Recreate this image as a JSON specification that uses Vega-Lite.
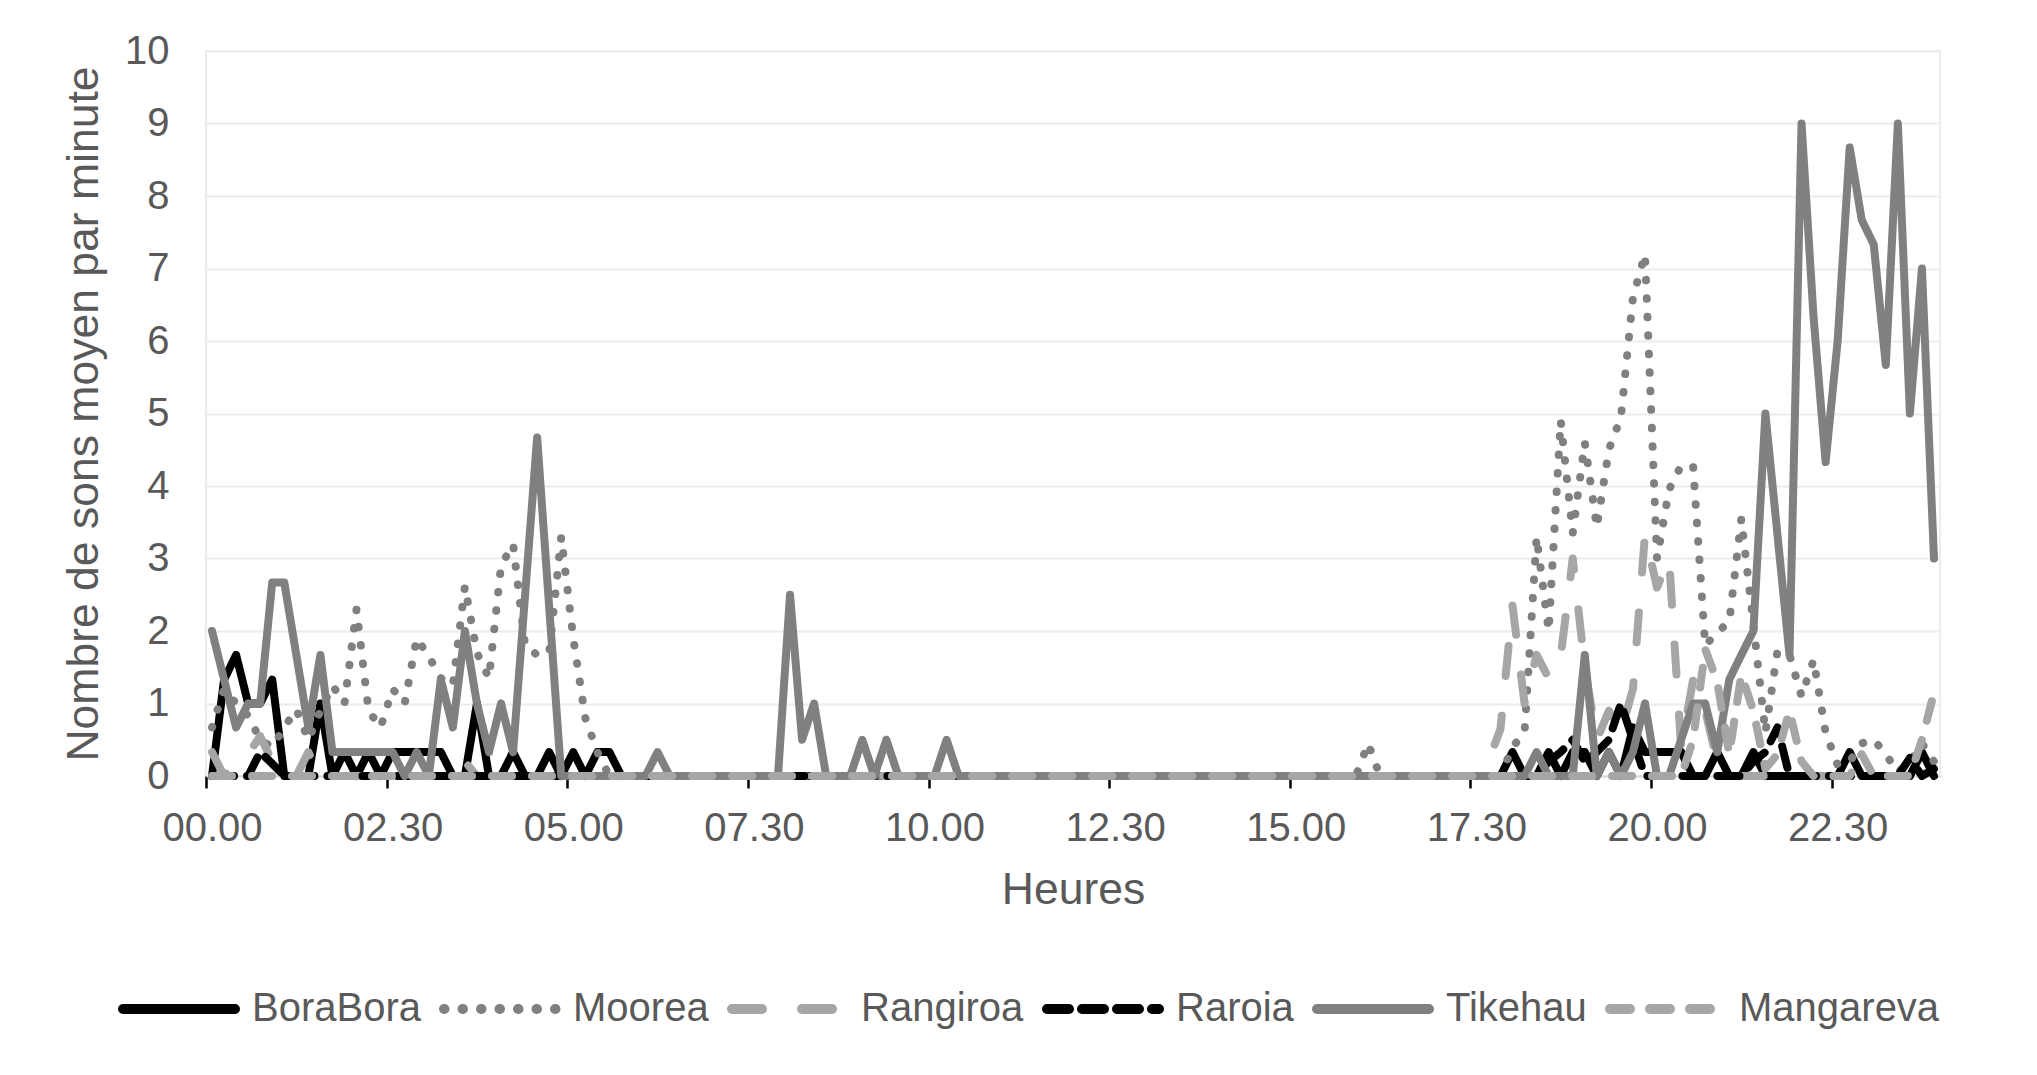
{
  "$schema": "https://vega.github.io/schema/vega-lite/v6.json",
  "width": 1734,
  "height": 725,
  "autosize": {"type": "none"},
  "padding": {"left": 206, "top": 51, "right": 97, "bottom": 299},
  "background": "white",
  "data": {"values": [
    {"heure":"00.00","BoraBora":0,"Moorea":0.67,"Rangiroa":0.33,"Raroia":0,"Tikehau":2,"Mangareva":0},
    {"heure":"00.10","BoraBora":1.33,"Moorea":1.2,"Rangiroa":0,"Raroia":0,"Tikehau":1.33,"Mangareva":0},
    {"heure":"00.20","BoraBora":1.67,"Moorea":1,"Rangiroa":0.15,"Raroia":0,"Tikehau":0.67,"Mangareva":0},
    {"heure":"00.30","BoraBora":1,"Moorea":0.83,"Rangiroa":0.3,"Raroia":0,"Tikehau":1,"Mangareva":0},
    {"heure":"00.40","BoraBora":1,"Moorea":0.5,"Rangiroa":0.55,"Raroia":0.33,"Tikehau":1,"Mangareva":0},
    {"heure":"00.50","BoraBora":1.33,"Moorea":0.4,"Rangiroa":0.2,"Raroia":0.17,"Tikehau":2.67,"Mangareva":0},
    {"heure":"01.00","BoraBora":0,"Moorea":0.67,"Rangiroa":0,"Raroia":0,"Tikehau":2.67,"Mangareva":0},
    {"heure":"01.10","BoraBora":0,"Moorea":0.92,"Rangiroa":0,"Raroia":0,"Tikehau":1.67,"Mangareva":0},
    {"heure":"01.20","BoraBora":0,"Moorea":0.5,"Rangiroa":0.33,"Raroia":0,"Tikehau":0.67,"Mangareva":0},
    {"heure":"01.30","BoraBora":1,"Moorea":0.9,"Rangiroa":0,"Raroia":0,"Tikehau":1.67,"Mangareva":0},
    {"heure":"01.40","BoraBora":0,"Moorea":1.25,"Rangiroa":0,"Raroia":0,"Tikehau":0.33,"Mangareva":0},
    {"heure":"01.50","BoraBora":0.33,"Moorea":1,"Rangiroa":0,"Raroia":0,"Tikehau":0.33,"Mangareva":0},
    {"heure":"02.00","BoraBora":0,"Moorea":2.3,"Rangiroa":0,"Raroia":0,"Tikehau":0.33,"Mangareva":0},
    {"heure":"02.10","BoraBora":0.33,"Moorea":0.9,"Rangiroa":0,"Raroia":0,"Tikehau":0.33,"Mangareva":0},
    {"heure":"02.20","BoraBora":0,"Moorea":0.67,"Rangiroa":0,"Raroia":0,"Tikehau":0.33,"Mangareva":0},
    {"heure":"02.30","BoraBora":0.33,"Moorea":1.2,"Rangiroa":0,"Raroia":0,"Tikehau":0.33,"Mangareva":0},
    {"heure":"02.40","BoraBora":0.33,"Moorea":1,"Rangiroa":0,"Raroia":0,"Tikehau":0,"Mangareva":0},
    {"heure":"02.50","BoraBora":0.33,"Moorea":1.9,"Rangiroa":0,"Raroia":0,"Tikehau":0.33,"Mangareva":0},
    {"heure":"03.00","BoraBora":0.33,"Moorea":1.65,"Rangiroa":0,"Raroia":0,"Tikehau":0,"Mangareva":0},
    {"heure":"03.10","BoraBora":0.33,"Moorea":1.35,"Rangiroa":0,"Raroia":0,"Tikehau":1.33,"Mangareva":0},
    {"heure":"03.20","BoraBora":0,"Moorea":1.25,"Rangiroa":0,"Raroia":0,"Tikehau":0.67,"Mangareva":0},
    {"heure":"03.30","BoraBora":0,"Moorea":2.62,"Rangiroa":0.2,"Raroia":0,"Tikehau":2,"Mangareva":0},
    {"heure":"03.40","BoraBora":1,"Moorea":1.7,"Rangiroa":0,"Raroia":0,"Tikehau":1,"Mangareva":0},
    {"heure":"03.50","BoraBora":0,"Moorea":1.35,"Rangiroa":0,"Raroia":0,"Tikehau":0.33,"Mangareva":0},
    {"heure":"04.00","BoraBora":0,"Moorea":2.9,"Rangiroa":0,"Raroia":0,"Tikehau":1,"Mangareva":0},
    {"heure":"04.10","BoraBora":0.33,"Moorea":3.2,"Rangiroa":0,"Raroia":0,"Tikehau":0.33,"Mangareva":0},
    {"heure":"04.20","BoraBora":0,"Moorea":1.8,"Rangiroa":0,"Raroia":0,"Tikehau":2.5,"Mangareva":0},
    {"heure":"04.30","BoraBora":0,"Moorea":1.67,"Rangiroa":0,"Raroia":0,"Tikehau":4.67,"Mangareva":0},
    {"heure":"04.40","BoraBora":0.33,"Moorea":1.7,"Rangiroa":0,"Raroia":0,"Tikehau":2.33,"Mangareva":0},
    {"heure":"04.50","BoraBora":0,"Moorea":3.3,"Rangiroa":0,"Raroia":0,"Tikehau":0,"Mangareva":0},
    {"heure":"05.00","BoraBora":0.33,"Moorea":1.9,"Rangiroa":0,"Raroia":0,"Tikehau":0,"Mangareva":0},
    {"heure":"05.10","BoraBora":0,"Moorea":0.8,"Rangiroa":0,"Raroia":0,"Tikehau":0,"Mangareva":0},
    {"heure":"05.20","BoraBora":0.33,"Moorea":0.33,"Rangiroa":0,"Raroia":0,"Tikehau":0,"Mangareva":0},
    {"heure":"05.30","BoraBora":0.33,"Moorea":0,"Rangiroa":0,"Raroia":0,"Tikehau":0,"Mangareva":0},
    {"heure":"05.40","BoraBora":0,"Moorea":0,"Rangiroa":0,"Raroia":0,"Tikehau":0,"Mangareva":0},
    {"heure":"05.50","BoraBora":0,"Moorea":0,"Rangiroa":0,"Raroia":0,"Tikehau":0,"Mangareva":0},
    {"heure":"06.00","BoraBora":0,"Moorea":0,"Rangiroa":0,"Raroia":0,"Tikehau":0,"Mangareva":0},
    {"heure":"06.10","BoraBora":0,"Moorea":0,"Rangiroa":0,"Raroia":0,"Tikehau":0.33,"Mangareva":0},
    {"heure":"06.20","BoraBora":0,"Moorea":0,"Rangiroa":0,"Raroia":0,"Tikehau":0,"Mangareva":0},
    {"heure":"06.30","BoraBora":0,"Moorea":0,"Rangiroa":0,"Raroia":0,"Tikehau":0,"Mangareva":0},
    {"heure":"06.40","BoraBora":0,"Moorea":0,"Rangiroa":0,"Raroia":0,"Tikehau":0,"Mangareva":0},
    {"heure":"06.50","BoraBora":0,"Moorea":0,"Rangiroa":0,"Raroia":0,"Tikehau":0,"Mangareva":0},
    {"heure":"07.00","BoraBora":0,"Moorea":0,"Rangiroa":0,"Raroia":0,"Tikehau":0,"Mangareva":0},
    {"heure":"07.10","BoraBora":0,"Moorea":0,"Rangiroa":0,"Raroia":0,"Tikehau":0,"Mangareva":0},
    {"heure":"07.20","BoraBora":0,"Moorea":0,"Rangiroa":0,"Raroia":0,"Tikehau":0,"Mangareva":0},
    {"heure":"07.30","BoraBora":0,"Moorea":0,"Rangiroa":0,"Raroia":0,"Tikehau":0,"Mangareva":0},
    {"heure":"07.40","BoraBora":0,"Moorea":0,"Rangiroa":0,"Raroia":0,"Tikehau":0,"Mangareva":0},
    {"heure":"07.50","BoraBora":0,"Moorea":0,"Rangiroa":0,"Raroia":0,"Tikehau":0,"Mangareva":0},
    {"heure":"08.00","BoraBora":0,"Moorea":0,"Rangiroa":0,"Raroia":0,"Tikehau":2.5,"Mangareva":0},
    {"heure":"08.10","BoraBora":0,"Moorea":0,"Rangiroa":0,"Raroia":0,"Tikehau":0.5,"Mangareva":0},
    {"heure":"08.20","BoraBora":0,"Moorea":0,"Rangiroa":0,"Raroia":0,"Tikehau":1,"Mangareva":0},
    {"heure":"08.30","BoraBora":0,"Moorea":0,"Rangiroa":0,"Raroia":0,"Tikehau":0,"Mangareva":0},
    {"heure":"08.40","BoraBora":0,"Moorea":0,"Rangiroa":0,"Raroia":0,"Tikehau":0,"Mangareva":0},
    {"heure":"08.50","BoraBora":0,"Moorea":0,"Rangiroa":0,"Raroia":0,"Tikehau":0,"Mangareva":0},
    {"heure":"09.00","BoraBora":0,"Moorea":0,"Rangiroa":0,"Raroia":0,"Tikehau":0.5,"Mangareva":0},
    {"heure":"09.10","BoraBora":0,"Moorea":0,"Rangiroa":0,"Raroia":0,"Tikehau":0,"Mangareva":0},
    {"heure":"09.20","BoraBora":0,"Moorea":0,"Rangiroa":0,"Raroia":0,"Tikehau":0.5,"Mangareva":0},
    {"heure":"09.30","BoraBora":0,"Moorea":0,"Rangiroa":0,"Raroia":0,"Tikehau":0,"Mangareva":0},
    {"heure":"09.40","BoraBora":0,"Moorea":0,"Rangiroa":0,"Raroia":0,"Tikehau":0,"Mangareva":0},
    {"heure":"09.50","BoraBora":0,"Moorea":0,"Rangiroa":0,"Raroia":0,"Tikehau":0,"Mangareva":0},
    {"heure":"10.00","BoraBora":0,"Moorea":0,"Rangiroa":0,"Raroia":0,"Tikehau":0,"Mangareva":0},
    {"heure":"10.10","BoraBora":0,"Moorea":0,"Rangiroa":0,"Raroia":0,"Tikehau":0.5,"Mangareva":0},
    {"heure":"10.20","BoraBora":0,"Moorea":0,"Rangiroa":0,"Raroia":0,"Tikehau":0,"Mangareva":0},
    {"heure":"10.30","BoraBora":0,"Moorea":0,"Rangiroa":0,"Raroia":0,"Tikehau":0,"Mangareva":0},
    {"heure":"10.40","BoraBora":0,"Moorea":0,"Rangiroa":0,"Raroia":0,"Tikehau":0,"Mangareva":0},
    {"heure":"10.50","BoraBora":0,"Moorea":0,"Rangiroa":0,"Raroia":0,"Tikehau":0,"Mangareva":0},
    {"heure":"11.00","BoraBora":0,"Moorea":0,"Rangiroa":0,"Raroia":0,"Tikehau":0,"Mangareva":0},
    {"heure":"11.10","BoraBora":0,"Moorea":0,"Rangiroa":0,"Raroia":0,"Tikehau":0,"Mangareva":0},
    {"heure":"11.20","BoraBora":0,"Moorea":0,"Rangiroa":0,"Raroia":0,"Tikehau":0,"Mangareva":0},
    {"heure":"11.30","BoraBora":0,"Moorea":0,"Rangiroa":0,"Raroia":0,"Tikehau":0,"Mangareva":0},
    {"heure":"11.40","BoraBora":0,"Moorea":0,"Rangiroa":0,"Raroia":0,"Tikehau":0,"Mangareva":0},
    {"heure":"11.50","BoraBora":0,"Moorea":0,"Rangiroa":0,"Raroia":0,"Tikehau":0,"Mangareva":0},
    {"heure":"12.00","BoraBora":0,"Moorea":0,"Rangiroa":0,"Raroia":0,"Tikehau":0,"Mangareva":0},
    {"heure":"12.10","BoraBora":0,"Moorea":0,"Rangiroa":0,"Raroia":0,"Tikehau":0,"Mangareva":0},
    {"heure":"12.20","BoraBora":0,"Moorea":0,"Rangiroa":0,"Raroia":0,"Tikehau":0,"Mangareva":0},
    {"heure":"12.30","BoraBora":0,"Moorea":0,"Rangiroa":0,"Raroia":0,"Tikehau":0,"Mangareva":0},
    {"heure":"12.40","BoraBora":0,"Moorea":0,"Rangiroa":0,"Raroia":0,"Tikehau":0,"Mangareva":0},
    {"heure":"12.50","BoraBora":0,"Moorea":0,"Rangiroa":0,"Raroia":0,"Tikehau":0,"Mangareva":0},
    {"heure":"13.00","BoraBora":0,"Moorea":0,"Rangiroa":0,"Raroia":0,"Tikehau":0,"Mangareva":0},
    {"heure":"13.10","BoraBora":0,"Moorea":0,"Rangiroa":0,"Raroia":0,"Tikehau":0,"Mangareva":0},
    {"heure":"13.20","BoraBora":0,"Moorea":0,"Rangiroa":0,"Raroia":0,"Tikehau":0,"Mangareva":0},
    {"heure":"13.30","BoraBora":0,"Moorea":0,"Rangiroa":0,"Raroia":0,"Tikehau":0,"Mangareva":0},
    {"heure":"13.40","BoraBora":0,"Moorea":0,"Rangiroa":0,"Raroia":0,"Tikehau":0,"Mangareva":0},
    {"heure":"13.50","BoraBora":0,"Moorea":0,"Rangiroa":0,"Raroia":0,"Tikehau":0,"Mangareva":0},
    {"heure":"14.00","BoraBora":0,"Moorea":0,"Rangiroa":0,"Raroia":0,"Tikehau":0,"Mangareva":0},
    {"heure":"14.10","BoraBora":0,"Moorea":0,"Rangiroa":0,"Raroia":0,"Tikehau":0,"Mangareva":0},
    {"heure":"14.20","BoraBora":0,"Moorea":0,"Rangiroa":0,"Raroia":0,"Tikehau":0,"Mangareva":0},
    {"heure":"14.30","BoraBora":0,"Moorea":0,"Rangiroa":0,"Raroia":0,"Tikehau":0,"Mangareva":0},
    {"heure":"14.40","BoraBora":0,"Moorea":0,"Rangiroa":0,"Raroia":0,"Tikehau":0,"Mangareva":0},
    {"heure":"14.50","BoraBora":0,"Moorea":0,"Rangiroa":0,"Raroia":0,"Tikehau":0,"Mangareva":0},
    {"heure":"15.00","BoraBora":0,"Moorea":0,"Rangiroa":0,"Raroia":0,"Tikehau":0,"Mangareva":0},
    {"heure":"15.10","BoraBora":0,"Moorea":0,"Rangiroa":0,"Raroia":0,"Tikehau":0,"Mangareva":0},
    {"heure":"15.20","BoraBora":0,"Moorea":0,"Rangiroa":0,"Raroia":0,"Tikehau":0,"Mangareva":0},
    {"heure":"15.30","BoraBora":0,"Moorea":0,"Rangiroa":0,"Raroia":0,"Tikehau":0,"Mangareva":0},
    {"heure":"15.40","BoraBora":0,"Moorea":0,"Rangiroa":0,"Raroia":0,"Tikehau":0,"Mangareva":0},
    {"heure":"15.50","BoraBora":0,"Moorea":0,"Rangiroa":0,"Raroia":0,"Tikehau":0,"Mangareva":0},
    {"heure":"16.00","BoraBora":0,"Moorea":0.45,"Rangiroa":0,"Raroia":0,"Tikehau":0,"Mangareva":0},
    {"heure":"16.10","BoraBora":0,"Moorea":0,"Rangiroa":0,"Raroia":0,"Tikehau":0,"Mangareva":0},
    {"heure":"16.20","BoraBora":0,"Moorea":0,"Rangiroa":0,"Raroia":0,"Tikehau":0,"Mangareva":0},
    {"heure":"16.30","BoraBora":0,"Moorea":0,"Rangiroa":0,"Raroia":0,"Tikehau":0,"Mangareva":0},
    {"heure":"16.40","BoraBora":0,"Moorea":0,"Rangiroa":0,"Raroia":0,"Tikehau":0,"Mangareva":0},
    {"heure":"16.50","BoraBora":0,"Moorea":0,"Rangiroa":0,"Raroia":0,"Tikehau":0,"Mangareva":0},
    {"heure":"17.00","BoraBora":0,"Moorea":0,"Rangiroa":0,"Raroia":0,"Tikehau":0,"Mangareva":0},
    {"heure":"17.10","BoraBora":0,"Moorea":0,"Rangiroa":0,"Raroia":0,"Tikehau":0,"Mangareva":0},
    {"heure":"17.20","BoraBora":0,"Moorea":0,"Rangiroa":0,"Raroia":0,"Tikehau":0,"Mangareva":0},
    {"heure":"17.30","BoraBora":0,"Moorea":0,"Rangiroa":0,"Raroia":0,"Tikehau":0,"Mangareva":0},
    {"heure":"17.40","BoraBora":0,"Moorea":0,"Rangiroa":0.2,"Raroia":0,"Tikehau":0,"Mangareva":0},
    {"heure":"17.50","BoraBora":0,"Moorea":0,"Rangiroa":0.65,"Raroia":0,"Tikehau":0,"Mangareva":0},
    {"heure":"18.00","BoraBora":0.33,"Moorea":0.4,"Rangiroa":2.35,"Raroia":0,"Tikehau":0,"Mangareva":0},
    {"heure":"18.10","BoraBora":0,"Moorea":0.6,"Rangiroa":1,"Raroia":0,"Tikehau":0,"Mangareva":0},
    {"heure":"18.20","BoraBora":0,"Moorea":3.3,"Rangiroa":1.67,"Raroia":0,"Tikehau":0.33,"Mangareva":0},
    {"heure":"18.30","BoraBora":0.33,"Moorea":2,"Rangiroa":1.35,"Raroia":0.2,"Tikehau":0,"Mangareva":0},
    {"heure":"18.40","BoraBora":0,"Moorea":4.9,"Rangiroa":1.65,"Raroia":0.33,"Tikehau":0,"Mangareva":0},
    {"heure":"18.50","BoraBora":0.33,"Moorea":3.35,"Rangiroa":3,"Raroia":0.5,"Tikehau":0,"Mangareva":0},
    {"heure":"19.00","BoraBora":0.33,"Moorea":4.6,"Rangiroa":1.5,"Raroia":0.2,"Tikehau":1.67,"Mangareva":0},
    {"heure":"19.10","BoraBora":0,"Moorea":3.43,"Rangiroa":0.5,"Raroia":0.33,"Tikehau":0,"Mangareva":0},
    {"heure":"19.20","BoraBora":0.33,"Moorea":4.5,"Rangiroa":0.9,"Raroia":0.5,"Tikehau":0.33,"Mangareva":0},
    {"heure":"19.30","BoraBora":0,"Moorea":4.95,"Rangiroa":0.6,"Raroia":1,"Tikehau":0,"Mangareva":0},
    {"heure":"19.40","BoraBora":0.67,"Moorea":6.6,"Rangiroa":1.2,"Raroia":0.5,"Tikehau":0.33,"Mangareva":0},
    {"heure":"19.50","BoraBora":0.33,"Moorea":7.2,"Rangiroa":3.33,"Raroia":0,"Tikehau":1,"Mangareva":0},
    {"heure":"20.00","BoraBora":0.33,"Moorea":3,"Rangiroa":2.6,"Raroia":0,"Tikehau":0,"Mangareva":0},
    {"heure":"20.10","BoraBora":0.33,"Moorea":3.95,"Rangiroa":3,"Raroia":0,"Tikehau":0,"Mangareva":0},
    {"heure":"20.20","BoraBora":0.33,"Moorea":4.28,"Rangiroa":0.4,"Raroia":0,"Tikehau":0.5,"Mangareva":0},
    {"heure":"20.30","BoraBora":0,"Moorea":4.27,"Rangiroa":1.33,"Raroia":0,"Tikehau":1,"Mangareva":0.5},
    {"heure":"20.40","BoraBora":0,"Moorea":1.8,"Rangiroa":0.9,"Raroia":0,"Tikehau":1,"Mangareva":1.75},
    {"heure":"20.50","BoraBora":0.33,"Moorea":1.98,"Rangiroa":0.2,"Raroia":0,"Tikehau":0.33,"Mangareva":1.3},
    {"heure":"21.00","BoraBora":0,"Moorea":2.13,"Rangiroa":0,"Raroia":0,"Tikehau":1.33,"Mangareva":0.3},
    {"heure":"21.10","BoraBora":0,"Moorea":3.55,"Rangiroa":0,"Raroia":0,"Tikehau":1.67,"Mangareva":1.4},
    {"heure":"21.20","BoraBora":0.33,"Moorea":2.1,"Rangiroa":0,"Raroia":0.2,"Tikehau":2,"Mangareva":0.9},
    {"heure":"21.30","BoraBora":0,"Moorea":0.6,"Rangiroa":0,"Raroia":0.33,"Tikehau":5,"Mangareva":0.1},
    {"heure":"21.40","BoraBora":0,"Moorea":1.72,"Rangiroa":0,"Raroia":0.67,"Tikehau":3.33,"Mangareva":0.3},
    {"heure":"21.50","BoraBora":0,"Moorea":1.67,"Rangiroa":0,"Raroia":0,"Tikehau":1.67,"Mangareva":0.9},
    {"heure":"22.00","BoraBora":0,"Moorea":1.1,"Rangiroa":0,"Raroia":0,"Tikehau":9,"Mangareva":0.2},
    {"heure":"22.10","BoraBora":0,"Moorea":1.6,"Rangiroa":0,"Raroia":0,"Tikehau":6.33,"Mangareva":0},
    {"heure":"22.20","BoraBora":0,"Moorea":0.6,"Rangiroa":0,"Raroia":0,"Tikehau":4.33,"Mangareva":0},
    {"heure":"22.30","BoraBora":0,"Moorea":0.15,"Rangiroa":0,"Raroia":0,"Tikehau":6,"Mangareva":0},
    {"heure":"22.40","BoraBora":0.33,"Moorea":0.2,"Rangiroa":0,"Raroia":0,"Tikehau":8.67,"Mangareva":0},
    {"heure":"22.50","BoraBora":0,"Moorea":0.45,"Rangiroa":0,"Raroia":0,"Tikehau":7.67,"Mangareva":0.3},
    {"heure":"23.00","BoraBora":0,"Moorea":0.5,"Rangiroa":0,"Raroia":0,"Tikehau":7.33,"Mangareva":0},
    {"heure":"23.10","BoraBora":0,"Moorea":0.3,"Rangiroa":0,"Raroia":0,"Tikehau":5.67,"Mangareva":0},
    {"heure":"23.20","BoraBora":0,"Moorea":0.05,"Rangiroa":0,"Raroia":0,"Tikehau":9,"Mangareva":0},
    {"heure":"23.30","BoraBora":0,"Moorea":0.2,"Rangiroa":0,"Raroia":0.25,"Tikehau":5,"Mangareva":0},
    {"heure":"23.40","BoraBora":0.33,"Moorea":0.45,"Rangiroa":0,"Raroia":0,"Tikehau":7,"Mangareva":0.5},
    {"heure":"23.50","BoraBora":0,"Moorea":0.2,"Rangiroa":0,"Raroia":0.1,"Tikehau":3,"Mangareva":1.15}
  ]},
  "transform": [
    {"fold": ["BoraBora", "Moorea", "Rangiroa", "Raroia", "Tikehau", "Mangareva"], "as": ["site", "sons"]}
  ],
  "mark": {"type": "line", "strokeWidth": 8, "strokeCap": "round", "strokeJoin": "round"},
  "encoding": {
    "x": {
      "field": "heure",
      "type": "ordinal",
      "sort": null,
      "scale": {"type": "point", "padding": 0.5},
      "axis": {
        "title": "Heures",
        "values": ["00.00", "02.30", "05.00", "07.30", "10.00", "12.30", "15.00", "17.30", "20.00", "22.30"],
        "labelAngle": 0,
        "tickOffset": -6.02,
        "labelOffset": 6.02,
        "tickSize": 12,
        "tickWidth": 2.5,
        "tickColor": "#000000",
        "domainColor": "#d9d9d9",
        "domainWidth": 2,
        "labelPadding": 20,
        "titlePadding": 20,
        "grid": false
      }
    },
    "y": {
      "field": "sons",
      "type": "quantitative",
      "scale": {"domain": [0, 10], "nice": false},
      "axis": {
        "title": "Nombre de sons moyen par minute",
        "values": [0, 1, 2, 3, 4, 5, 6, 7, 8, 9, 10],
        "domain": false,
        "ticks": false,
        "tickSize": 0,
        "labelPadding": 37,
        "titlePadding": 18,
        "gridColor": "#ececec",
        "gridWidth": 2
      }
    },
    "color": {
      "field": "site",
      "type": "nominal",
      "scale": {
        "domain": ["BoraBora", "Moorea", "Rangiroa", "Raroia", "Tikehau", "Mangareva"],
        "range": ["#000000", "#808080", "#a6a6a6", "#000000", "#808080", "#a6a6a6"]
      },
      "legend": {
        "title": null,
        "orient": "none",
        "direction": "horizontal",
        "columns": 6,
        "legendX": -88,
        "legendY": 897,
        "symbolType": "stroke",
        "symbolSize": 12544,
        "symbolStrokeWidth": 10,
        "labelFontSize": 40,
        "labelColor": "#595959",
        "labelFont": "Liberation Sans",
        "labelOffset": 12,
        "labelLimit": 400,
        "columnPadding": 3,
        "encode": {
          "symbols": {
            "update": {
              "strokeCap": {"value": "round"}
            }
          }
        }
      }
    },
    "strokeDash": {
      "field": "site",
      "type": "nominal",
      "scale": {
        "domain": ["BoraBora", "Moorea", "Rangiroa", "Raroia", "Tikehau", "Mangareva"],
        "range": [[1, 0], [0.5, 18], [30, 40], [22, 13], [1, 0], [20, 20]]
      },
      "legend": {
        "title": null,
        "orient": "none",
        "direction": "horizontal",
        "columns": 6,
        "legendX": -88,
        "legendY": 897,
        "symbolType": "stroke",
        "symbolSize": 12544,
        "symbolStrokeWidth": 10,
        "labelFontSize": 40,
        "labelColor": "#595959",
        "labelFont": "Liberation Sans",
        "labelOffset": 12,
        "labelLimit": 400,
        "columnPadding": 3,
        "encode": {
          "symbols": {
            "update": {
              "strokeCap": {"value": "round"}
            }
          }
        }
      }
    }
  },
  "config": {
    "font": "Liberation Sans",
    "view": {"stroke": "#ececec", "strokeWidth": 2},
    "axis": {
      "labelFont": "Liberation Sans",
      "titleFont": "Liberation Sans",
      "labelFontSize": 40,
      "titleFontSize": 44.5,
      "titleFontWeight": "normal",
      "labelColor": "#595959",
      "titleColor": "#595959"
    }
  }
}
